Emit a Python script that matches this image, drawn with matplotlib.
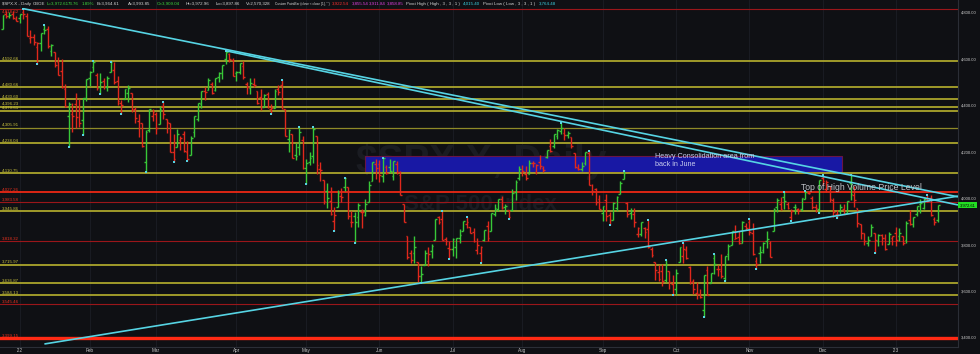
import matplotlib
matplotlib.use("Agg")
import matplotlib.pyplot as plt
import matplotlib.transforms as mtransforms
from matplotlib.collections import LineCollection
from matplotlib.patches import Rectangle
import numpy as np
import pandas as pd

plt.rcParams['font.family'] = ['Liberation Sans', 'DejaVu Sans']

# daily $SPX.X bars, Dec 27 2021 -> Jan 20 2023 (one row per month)
opens = [
    4733, 4795, 4789, 4795, 4776,
    4778, 4804, 4788, 4693, 4698, 4655, 4670, 4729, 4733, 4637, 4632, 4588, 4548, 4471, 4357, 4367, 4408, 4380, 4337, 4432,
    4519, 4567, 4535, 4483, 4505, 4481, 4547, 4554, 4506, 4413, 4429, 4455, 4456, 4385, 4333, 4324, 4156, 4298, 4355,
    4364, 4322, 4401, 4342, 4327, 4202, 4223, 4253, 4280, 4202, 4188, 4289, 4345, 4407, 4462, 4469, 4494, 4470, 4523, 4541, 4602, 4624, 4599,
    4540, 4547, 4573, 4495, 4475, 4494, 4462, 4438, 4397, 4449, 4386, 4390, 4473, 4490, 4385, 4255, 4279, 4187, 4223, 4253,
    4131, 4159, 4182, 4270, 4128, 4082, 4035, 3991, 3904, 3963, 4013, 4052, 4052, 3900, 3927, 3920, 3943, 3929, 3985, 4078, 4151,
    4150, 4096, 4137, 4135, 4096, 4148, 4102, 3975, 3839, 3764, 3764, 3728, 3666, 3715, 3733, 3775, 3821, 3921, 3913, 3826, 3786,
    3782, 3793, 3831, 3859, 3889, 3880, 3856, 3779, 3764, 3820, 3883, 3860, 3935, 3955, 3999, 3966, 3953, 3951, 4027, 4088,
    4113, 4105, 4108, 4155, 4116, 4156, 4134, 4181, 4227, 4225, 4269, 4291, 4281, 4274, 4267, 4195, 4134, 4126, 4154, 4198, 4034, 4041, 4000,
    3937, 3995, 3930, 3910, 3959, 4022, 4084, 3983, 3940, 3932, 3846, 3849, 3875, 3871, 3782, 3727, 3682, 3687, 3651, 3688, 3633,
    3610, 3726, 3754, 3777, 3707, 3645, 3595, 3591, 3520, 3691, 3638, 3746, 3695, 3689, 3657, 3762, 3799, 3826, 3836, 3808, 3882,
    3901, 3852, 3733, 3767, 3780, 3818, 3810, 3860, 3964, 3978, 4006, 3977, 3920, 3966, 3956, 3956, 4000, 4023, 4005, 3965, 3957,
    4087, 4041, 4053, 3996, 3934, 3947, 3954, 3940, 4069, 4016, 3959, 3890, 3854, 3810, 3840, 3853, 3816, 3844, 3829, 3805, 3829,
    3853, 3840, 3840, 3823, 3910, 3889, 3932, 3977, 3961, 3999, 4002, 3911, 3909.04,
]
highs = [
    4791, 4807, 4804, 4808, 4787,
    4797, 4818.62, 4798, 4726, 4708, 4674, 4715, 4749, 4745, 4666, 4632, 4612, 4603, 4494, 4417, 4411, 4454, 4429, 4432, 4517,
    4550, 4595, 4542, 4540, 4521, 4529, 4590, 4589, 4527, 4427, 4473, 4490, 4456, 4394, 4363, 4326, 4295, 4385, 4385,
    4375, 4401, 4417, 4343, 4327, 4277, 4300, 4268, 4291, 4248, 4271, 4358, 4412, 4465, 4481, 4522, 4501, 4521, 4546, 4576, 4637, 4627, 4604,
    4548, 4583, 4593, 4504, 4521, 4521, 4464, 4471, 4453, 4461, 4410, 4472, 4489, 4513, 4386, 4299, 4279, 4240, 4308, 4270,
    4169, 4200, 4308, 4270, 4158, 4082, 4068, 4050, 3964, 4039, 4047, 4090, 4052, 3946, 3944, 3982, 3955, 3999, 4075, 4159, 4169,
    4167, 4177, 4143, 4169, 4164, 4161, 4119, 3975, 3839, 3778, 3838, 3728, 3708, 3779, 3790, 3803, 3913, 3927, 3945, 3836, 3818,
    3829, 3832, 3870, 3906, 3919, 3880, 3874, 3830, 3796, 3863, 3903, 3939, 3975, 3999, 4012, 3976, 3953, 4040, 4079, 4140,
    4144, 4140, 4167, 4162, 4151, 4187, 4142, 4211, 4258, 4280, 4302, 4325, 4303, 4292, 4267, 4195, 4150, 4157, 4200, 4204, 4063, 4044, 4015,
    3970, 4019, 3942, 3987, 4010, 4077, 4120, 3986, 3961, 3958, 3880, 3900, 3877, 3907, 3791, 3727, 3716, 3717, 3737, 3688, 3672,
    3696, 3793, 3807, 3797, 3711, 3653, 3640, 3609, 3671, 3712, 3679, 3763, 3716, 3763, 3755, 3804, 3862, 3887, 3860, 3905, 3894,
    3911, 3894, 3750, 3796, 3814, 3860, 3818, 3958, 4001, 4009, 4028, 3984, 3955, 3979, 3962, 4004, 4034, 4034, 4013, 3976, 4080,
    4101, 4080, 4053, 4001, 3951, 3975, 3977, 3991, 4100, 4053, 3959, 3890, 3854, 3839, 3889, 3853, 3846, 3847, 3849, 3858, 3840,
    3878, 3873, 3840, 3906, 3951, 3919, 3970, 3997, 4003, 4015.40, 4015, 3922, 3972.96,
]
lows = [
    4733, 4780, 4778, 4775, 4766,
    4758, 4774, 4699, 4671, 4663, 4582, 4638, 4709, 4650, 4614, 4568, 4531, 4477, 4396, 4223, 4288, 4305, 4309, 4273, 4419,
    4484, 4544, 4470, 4452, 4471, 4464, 4547, 4493, 4402, 4365, 4429, 4417, 4374, 4328, 4267, 4221, 4115, 4287, 4336,
    4279, 4322, 4345, 4285, 4199, 4157, 4223, 4209, 4200, 4162, 4187, 4267, 4335, 4392, 4425, 4469, 4453, 4466, 4502, 4517, 4582, 4589, 4529,
    4507, 4539, 4514, 4453, 4451, 4482, 4408, 4381, 4394, 4390, 4367, 4390, 4448, 4385, 4268, 4200, 4175, 4167, 4188, 4129,
    4062, 4144, 4152, 4106, 4077, 3975, 3959, 3928, 3859, 3963, 3984, 4034, 3912, 3876, 3811, 3876, 3875, 3925, 3985, 4078, 4084,
    4074, 4074, 4107, 4109, 4081, 4108, 4017, 3900, 3740, 3725, 3723, 3639, 3637, 3715, 3710, 3743, 3821, 3889, 3820, 3800, 3739,
    3752, 3743, 3810, 3859, 3873, 3850, 3812, 3761, 3722, 3818, 3819, 3860, 3924, 3946, 3955, 3936, 3911, 3946, 3993, 4079,
    4096, 4079, 4107, 4135, 4108, 4127, 4113, 4176, 4201, 4219, 4256, 4277, 4254, 4263, 4219, 4131, 4124, 4121, 4147, 4057, 4017, 3971, 3954,
    3903, 3906, 3886, 3907, 3945, 4022, 4084, 3921, 3913, 3880, 3837, 3839, 3830, 3789, 3749, 3648, 3644, 3623, 3641, 3611, 3584,
    3585, 3726, 3722, 3739, 3631, 3589, 3568, 3573, 3492, 3584, 3638, 3676, 3667, 3657, 3647, 3734, 3799, 3825, 3803, 3808, 3863,
    3844, 3759, 3699, 3721, 3764, 3786, 3748, 3860, 3944, 3950, 3954, 3955, 3906, 3932, 3933, 3947, 3998, 4020, 3956, 3943, 3937,
    4057, 4027, 3984, 3919, 3916, 3935, 3933, 3937, 3994, 3966, 3880, 3828, 3800, 3796, 3840, 3764.48, 3798, 3800, 3780, 3805, 3801,
    3795, 3816, 3802, 3810, 3888, 3877, 3925, 3937, 3955, 3985, 3926, 3885, 3897.86,
]
closes = [
    4791, 4786, 4793, 4778, 4766,
    4797, 4794, 4701, 4696, 4677, 4670, 4713, 4726, 4659, 4663, 4577, 4533, 4483, 4398, 4410, 4356, 4350, 4327, 4432, 4516,
    4547, 4589, 4477, 4501, 4484, 4522, 4587, 4504, 4419, 4402, 4471, 4475, 4380, 4349, 4305, 4226, 4289, 4385, 4374,
    4306, 4387, 4363, 4329, 4201, 4171, 4278, 4260, 4204, 4173, 4262, 4358, 4412, 4463, 4461, 4512, 4456, 4520, 4543, 4576, 4632, 4602, 4530,
    4546, 4583, 4525, 4481, 4500, 4488, 4413, 4397, 4447, 4393, 4392, 4462, 4459, 4394, 4272, 4296, 4175, 4184, 4288, 4132,
    4155, 4175, 4300, 4147, 4123, 3991, 4001, 3935, 3930, 4024, 4008, 4089, 3924, 3901, 3901, 3974, 3941, 3979, 4058, 4158, 4132,
    4101, 4177, 4109, 4121, 4161, 4116, 4018, 3901, 3750, 3735, 3790, 3667, 3675, 3765, 3760, 3796, 3912, 3900, 3822, 3819, 3785,
    3825, 3831, 3845, 3903, 3899, 3854, 3819, 3802, 3790, 3863, 3831, 3937, 3960, 3999, 3962, 3967, 3921, 4024, 4072, 4130,
    4119, 4091, 4155, 4152, 4145, 4140, 4122, 4210, 4207, 4280, 4297, 4305, 4274, 4284, 4228, 4138, 4129, 4141, 4199, 4058, 4031, 3986, 3955,
    3967, 3924, 3908, 3980, 4006, 4067, 4110, 3933, 3946, 3901, 3873, 3900, 3856, 3790, 3758, 3693, 3655, 3647, 3719, 3640, 3586,
    3678, 3791, 3783, 3745, 3640, 3612, 3589, 3577, 3670, 3583, 3678, 3720, 3695, 3666, 3753, 3797, 3859, 3831, 3807, 3901, 3872,
    3856, 3760, 3720, 3771, 3807, 3828, 3749, 3956, 3993, 3957, 3992, 3959, 3947, 3965, 3950, 4004, 4027, 4026, 3964, 3958, 4080,
    4077, 4072, 3999, 3941, 3934, 3964, 3934, 3991, 4020, 3995, 3896, 3852, 3818, 3822, 3878, 3822, 3845, 3829, 3783, 3849, 3840,
    3824, 3853, 3808, 3895, 3892, 3919, 3970, 3983, 3999, 3991, 3929, 3899, 3972.61,
]

holidays = ["2022-01-17", "2022-02-21", "2022-04-15", "2022-05-30", "2022-06-20", "2022-07-04",
            "2022-09-05", "2022-11-24", "2022-12-26", "2023-01-02", "2023-01-16"]
month_labels = ["'22", "Feb", "Mar", "Apr", "May", "Jun", "Jul", "Aug", "Sep", "Oct", "Nov", "Dec", "'23"]

# horizontal levels drawn on the chart
level_values = [4818.62, 4592.66, 4480.66, 4430.60, 4396.23, 4379.61, 4305.91, 4238.04, 4110.75,
                4027.26, 3983.58, 3945.86, 3818.32, 3715.97, 3636.87, 3584.13, 3545.46, 3399.15]
level_kinds = ["d", "y", "y", "y", "y", "y", "t", "y", "y",
               "r", "d", "y", "d", "y", "y", "y", "d", "R"]

# trend lines: (start bar, start price, end bar, end price)
trend_lines = [(6, 4818.62, 273.8, 4008),
               (64, 4637.3, 273.8, 3973),
               (12, 3374, 273.8, 4011)]

zone_bars = (103.9, 240.5)
zone_prices = (4115, 4184)

header = [(2, "$SPX.X - Daily", "#d8d8d8"), (33, "CBOE", "#d8d8d8"), (47, "L=3,972.61", "#3ddc3d"),
          (68, "73.76", "#3ddc3d"), (82, "1.89%", "#3ddc3d"), (97, "B=3,964.61", "#d8d8d8"),
          (128, "A=3,993.85", "#d8d8d8"), (157, "O=3,909.04", "#3ddc3d"), (186, "Hi=3,972.96", "#d8d8d8"),
          (216, "Lo=3,897.86", "#d8d8d8"), (246, "V=2,570,328", "#d8d8d8"),
          (275, 'Custom PaintBar (close < close [1], "")', "#d8d8d8"),
          (332, "3,922.54", "#ff3030"), (352, "3,855.54", "#e040e0"), (369, "3,911.84", "#e040e0"),
          (387, "3,858.85", "#e040e0"), (406, "Pivot High ( High , 3 , 3 , 1 )", "#d8d8d8"),
          (463, "4,015.40", "#3ad0e0"), (483, "Pivot Low ( Low , 3 , 3 , 1 )", "#d8d8d8"),
          (539, "3,764.48", "#3ad0e0")]

BG = "#0f1014"
GREEN = "#38c838"
RED = "#e0281c"
CYAN = "#56d4e4"
level_style = {"y": ("#aba52c", 1.3), "t": ("#8f8a28", 0.9), "r": ("#ff2a14", 1.2),
               "d": ("#9a161a", 0.8), "R": ("#ff2a14", 2.4)}

o = np.array(opens, float)
h = np.array(highs, float)
l = np.array(lows, float)
c = np.array(closes, float)
n = len(c)

dates = pd.bdate_range("2021-12-27", "2023-01-20", freq="C", holidays=holidays)[:n]
month_start = [i for i in range(1, len(dates)) if dates[i].month != dates[i - 1].month]

fig = plt.figure(figsize=(9.8, 3.54), dpi=100, facecolor=BG)
ax = fig.add_axes([0, 7 / 354, 958 / 980, 347 / 354], facecolor=BG)
ax.set_xlim(-0.72, 273.8)
ax.set_ylim(3361, 4856)

for i in month_start:
    ax.axvline(i, color="#1c1e25", lw=0.6, zorder=0)

# watermark
ax.text(0.502, 0.535, "$SPX.X, Daily", transform=ax.transAxes, ha="center", va="center",
        fontsize=28, fontweight="bold", color="#1a1c22", zorder=0.5)
ax.text(0.502, 0.41, "S&P 500 Index", transform=ax.transAxes, ha="center", va="center",
        fontsize=16, fontweight="bold", color="#1a1c22", zorder=0.5)

# consolidation zone
ax.add_patch(Rectangle((zone_bars[0], zone_prices[0]), zone_bars[1] - zone_bars[0],
                       zone_prices[1] - zone_prices[0], facecolor="#1818a4", edgecolor="#6a1446",
                       lw=0.8, zorder=1.5))

blend = mtransforms.blended_transform_factory(ax.transAxes, ax.transData)
for v, k in zip(level_values, level_kinds):
    col, lw = level_style[k]
    ax.axhline(v, color=col, lw=lw, zorder=2)
    tcol = "#c9c23e" if k in ("y", "t") else "#e8301e"
    top = v == max(level_values)
    ax.text(0.002, v - 4 if top else v + 3, f"{v:,.2f}", transform=blend, fontsize=3.2, color=tcol,
            ha="left", va="top" if top else "bottom", zorder=5)

# bars, red when close < previous close
segs, cols = [], []
for i in range(n):
    up = i == 0 or c[i] >= c[i - 1]
    col = GREEN if up else RED
    segs += [[(i, l[i]), (i, h[i])], [(i - 0.5, o[i]), (i, o[i])], [(i, c[i]), (i + 0.5, c[i])]]
    cols += [col] * 3
ax.add_collection(LineCollection(segs, colors=cols, linewidths=1.0, zorder=3))

# pivot high / low (3, 3)
for i in range(3, n - 3):
    if h[i] > h[i - 3:i].max() and h[i] >= h[i + 1:i + 4].max():
        ax.plot(i, h[i], "s", ms=1.6, color=CYAN, mew=0, zorder=4)
    if l[i] < l[i - 3:i].min() and l[i] <= l[i + 1:i + 4].min():
        ax.plot(i, l[i], "s", ms=1.6, color=CYAN, mew=0, zorder=4)

for x0, y0, x1, y1 in trend_lines:
    ax.plot([x0, x1], [y0, y1], color=CYAN, lw=1.2, zorder=4, solid_capstyle="butt")

ax.text(187, 4197, "Heavy Consolidation area from\nback in June", fontsize=5.2, color="#c8ccee",
        ha="left", va="top", linespacing=1.15, zorder=5)
ax.text(228.8, 4050, "Top of High Volume Price Level", fontsize=6.2, color="#c0c2c8",
        ha="left", va="center", zorder=5)

# right price axis
for v in range(3400, 4801, 200):
    ax.text(1.003, v, f"{v:,.2f}", transform=blend, fontsize=3.0, color="#d0d0d0",
            ha="left", va="center", clip_on=False)
ax.text(1.002, c[-1], f"{c[-1]:,.2f}", transform=blend, fontsize=3.0, color="black",
        ha="left", va="center", clip_on=False,
        bbox=dict(boxstyle="square,pad=0.35", facecolor="#22dd22", edgecolor="none"))

ax.set_yticks([])
ax.set_xticks(month_start)
ax.set_xticklabels(month_labels[:len(month_start)])
ax.tick_params(axis="x", length=0, pad=0.8, labelsize=3.3, colors="#c8c8c8")
for s in ("top", "left"):
    ax.spines[s].set_visible(False)
for s in ("right", "bottom"):
    ax.spines[s].set_color("#2b2e36")
    ax.spines[s].set_linewidth(0.8)

for px, txt, col in header:
    fig.text(px / 980, 1 - 4.0 / 354, txt, fontsize=3.2 if px != 275 else 2.3, color=col,
             ha="left", va="center")

fig.savefig("out.png", dpi=100, facecolor=BG)
plt.close(fig)
